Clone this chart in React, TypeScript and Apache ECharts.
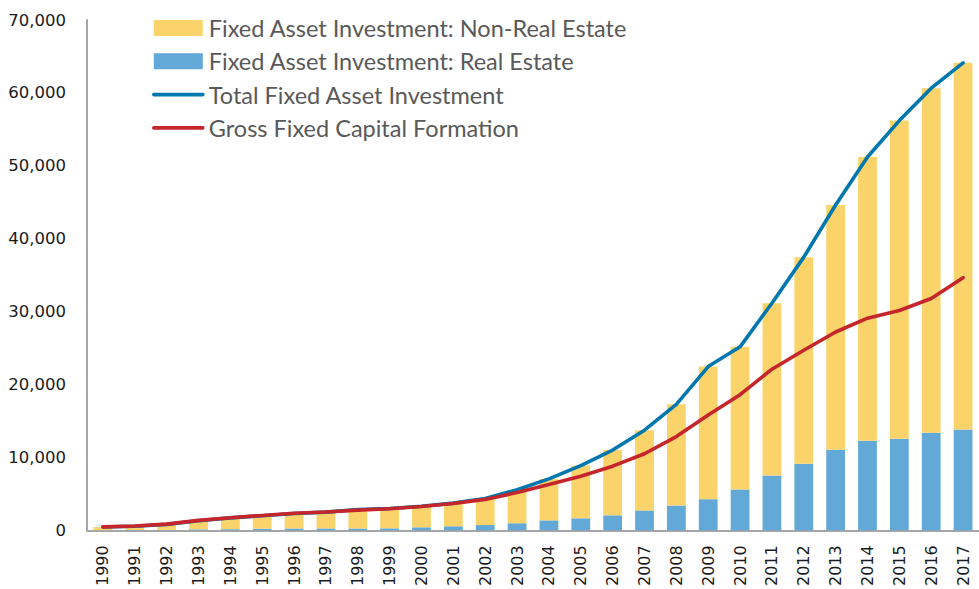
import React, { useEffect, useRef } from "react";
import * as echarts from "echarts";

const years = [
  "1990", "1991", "1992", "1993", "1994", "1995", "1996", "1997", "1998", "1999",
  "2000", "2001", "2002", "2003", "2004", "2005", "2006", "2007", "2008", "2009",
  "2010", "2011", "2012", "2013", "2014", "2015", "2016", "2017",
];

const totalFAI = [
  452, 560, 808, 1307, 1704, 2002, 2297, 2494, 2841, 2986,
  3292, 3721, 4350, 5557, 7048, 8877, 11000, 13732, 17283, 22460,
  25168, 31149, 37470, 44629, 51202, 56200, 60647, 64124,
];

const realEstate = [
  20, 30, 60, 120, 150, 220, 250, 250, 250, 270,
  410, 550, 720, 950, 1360, 1640, 2050, 2730, 3400, 4270,
  5600, 7500, 9140, 11050, 12280, 12550, 13370, 13820,
];

const gfcf = [
  464, 580, 846, 1357, 1719, 2036, 2334, 2515, 2763, 2948,
  3262, 3681, 4236, 5178, 6288, 7413, 8795, 10500, 12850, 15800,
  18600, 22100, 24700, 27200, 29100, 30150, 31800, 34650,
];

const nonRealEstate = totalFAI.map((t, i) => t - realEstate[i]);

const yTicks = { min: 0, max: 70000, interval: 10000 };

export default function App() {
  const ref = useRef<HTMLDivElement>(null);
  useEffect(() => {
    if (!ref.current) return;
    const chart = echarts.init(ref.current, undefined, { renderer: "svg" });
    chart.setOption({
      animation: false,
      backgroundColor: "#ffffff",
      grid: { left: 87, right: -7, top: 20, bottom: 56, containLabel: false },
      legend: {
        orient: "vertical",
        left: 152,
        top: 13,
        padding: 0,
        itemWidth: 49,
        itemHeight: 16,
        itemGap: 3.3,
        textStyle: {
          fontFamily: "Lato",
          fontSize: 23.5,
          color: "#595959",
          lineHeight: 30,
          padding: [0, 0, 0, 1],
        },
        data: [
          { name: "Fixed Asset Investment: Non-Real Estate", icon: "rect" },
          { name: "Fixed Asset Investment: Real Estate", icon: "rect" },
          { name: "Total Fixed Asset Investment", itemStyle: { opacity: 0 }, lineStyle: { width: 3.6, cap: "round" } },
          { name: "Gross Fixed Capital Formation", itemStyle: { opacity: 0 }, lineStyle: { width: 3.6, cap: "round" } },
        ],
      },
      xAxis: {
        type: "category",
        data: years,
        boundaryGap: true,
        axisLine: { show: true, lineStyle: { color: "#a6a6a6", width: 2 } },
        axisTick: { show: false },
        axisLabel: {
          rotate: 90,
          interval: 0,
          margin: 15,
          fontFamily: "DejaVu Sans",
          fontSize: 16,
          color: "#1a1a1a",
        },
      },
      yAxis: {
        type: "value",
        min: yTicks.min,
        max: yTicks.max,
        interval: yTicks.interval,
        splitLine: { show: false },
        axisLine: { show: true, lineStyle: { color: "#a6a6a6", width: 2 } },
        axisTick: { show: false },
        axisLabel: {
          margin: 21,
          fontFamily: "DejaVu Sans",
          fontSize: 16.5,
          color: "#1a1a1a",
          formatter: (v: number) => v.toLocaleString("en-US"),
        },
      },
      series: [
        {
          name: "Fixed Asset Investment: Real Estate",
          type: "bar",
          stack: "fai",
          barWidth: "59%",
          data: realEstate,
          itemStyle: { color: "#63a9d7" },
        },
        {
          name: "Fixed Asset Investment: Non-Real Estate",
          type: "bar",
          stack: "fai",
          barWidth: "59%",
          data: nonRealEstate,
          itemStyle: { color: "#fad46b" },
        },
        {
          name: "Total Fixed Asset Investment",
          type: "line",
          data: totalFAI,
          symbol: "none",
          lineStyle: { color: "#0077ad", width: 3.6, cap: "round", join: "round" },
          itemStyle: { color: "#0077ad" },
        },
        {
          name: "Gross Fixed Capital Formation",
          type: "line",
          data: gfcf,
          symbol: "none",
          lineStyle: { color: "#c4262c", width: 3.6, cap: "round", join: "round" },
          itemStyle: { color: "#c4262c" },
        },
      ],
    });
    return () => chart.dispose();
  }, []);
  return <div ref={ref} style={{ width: 979, height: 589, position: "absolute", left: 0, top: 0 }} />;
}
